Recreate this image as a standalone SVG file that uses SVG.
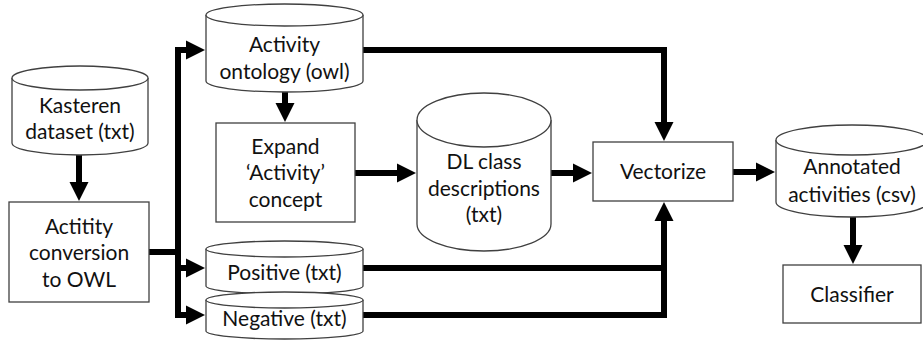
<svg xmlns="http://www.w3.org/2000/svg" width="923" height="341" viewBox="0 0 923 341">
<style>
.shape{fill:#fff;stroke:#404040;stroke-width:1.3}
.lbl{font-family:Lato,"Open Sans","Liberation Sans",sans-serif;font-size:21px;fill:#111;text-anchor:middle}
.conn{fill:none;stroke:#000;stroke-width:6}
</style>
<defs>
<marker id="ah" markerUnits="userSpaceOnUse" markerWidth="22" markerHeight="22" viewBox="0 -11 22 22" refX="1" refY="0" orient="auto">
<path d="M0,-9.5 L19,0 L0,9.5 Z" fill="#000"/>
</marker>
</defs>
<g id="connectors">
<path class="conn" d="M79,155 V183" marker-end="url(#ah)"/>
<path class="conn" d="M149,252 H178"/>
<path class="conn" d="M178,47 V315"/>
<path class="conn" d="M175,50 H187" marker-end="url(#ah)"/>
<path class="conn" d="M175,268 H187" marker-end="url(#ah)"/>
<path class="conn" d="M175,315 H187" marker-end="url(#ah)"/>
<path class="conn" d="M285,92 V104" marker-end="url(#ah)"/>
<path class="conn" d="M355,173 H398" marker-end="url(#ah)"/>
<path class="conn" d="M551,173 H574" marker-end="url(#ah)"/>
<path class="conn" d="M733,172 H757" marker-end="url(#ah)"/>
<path class="conn" d="M853,217 V246" marker-end="url(#ah)"/>
<path class="conn" d="M363,50 H664 V123" marker-end="url(#ah)"/>
<path class="conn" d="M363,268 H664"/>
<path class="conn" d="M363,315 H664 V220" marker-end="url(#ah)"/>
</g>
<g id="kasteren">
<path class="shape" d="M12,78 V143 A68,12 0 0 0 148,143 V78"/>
<ellipse class="shape" cx="80" cy="78" rx="68" ry="12"/>
<text class="lbl" x="80" y="113">Kasteren</text>
<text class="lbl" x="80" y="139">dataset (txt)</text>
</g>
<g id="conversion">
<rect class="shape" x="9" y="202" width="140" height="100"/>
<text class="lbl" x="79" y="234">Actitity</text>
<text class="lbl" x="79" y="260">conversion</text>
<text class="lbl" x="79" y="287">to OWL</text>
</g>
<g id="ontology">
<path class="shape" d="M206,15 V81 A78.5,11 0 0 0 363,81 V15"/>
<ellipse class="shape" cx="284.5" cy="15" rx="78.5" ry="11"/>
<text class="lbl" x="284.5" y="52">Activity</text>
<text class="lbl" x="284.5" y="79">ontology (owl)</text>
</g>
<g id="expand">
<rect class="shape" x="216" y="123" width="139" height="99"/>
<text class="lbl" x="285.5" y="154">Expand</text>
<text class="lbl" x="285.5" y="180">‘Activity’</text>
<text class="lbl" x="285.5" y="207">concept</text>
</g>
<g id="positive">
<path class="shape" d="M206,249 V286 A78.5,8 0 0 0 363,286 V249"/>
<ellipse class="shape" cx="284.5" cy="249" rx="78.5" ry="8"/>
<text class="lbl" x="284.5" y="280">Positive (txt)</text>
</g>
<g id="negative">
<path class="shape" d="M206,300 V331 A78.5,8 0 0 0 363,331 V300"/>
<ellipse class="shape" cx="284.5" cy="300" rx="78.5" ry="8"/>
<text class="lbl" x="284.5" y="326">Negative (txt)</text>
</g>
<g id="dl">
<path class="shape" d="M417,120 V224 A67,27 0 0 0 551,224 V120"/>
<ellipse class="shape" cx="484" cy="120" rx="67" ry="27"/>
<text class="lbl" x="484" y="169">DL class</text>
<text class="lbl" x="484" y="196">descriptions</text>
<text class="lbl" x="484" y="222">(txt)</text>
</g>
<g id="vectorize">
<rect class="shape" x="593" y="142" width="140" height="59"/>
<text class="lbl" x="663" y="179">Vectorize</text>
</g>
<g id="annotated">
<path class="shape" d="M776,140 V202 A76,15 0 0 0 928,202 V140"/>
<ellipse class="shape" cx="852" cy="140" rx="76" ry="15"/>
<text class="lbl" x="852" y="174">Annotated</text>
<text class="lbl" x="852" y="202">activities (csv)</text>
</g>
<g id="classifier">
<rect class="shape" x="783" y="265" width="138" height="58"/>
<text class="lbl" x="852" y="302">Classifier</text>
</g>
</svg>
